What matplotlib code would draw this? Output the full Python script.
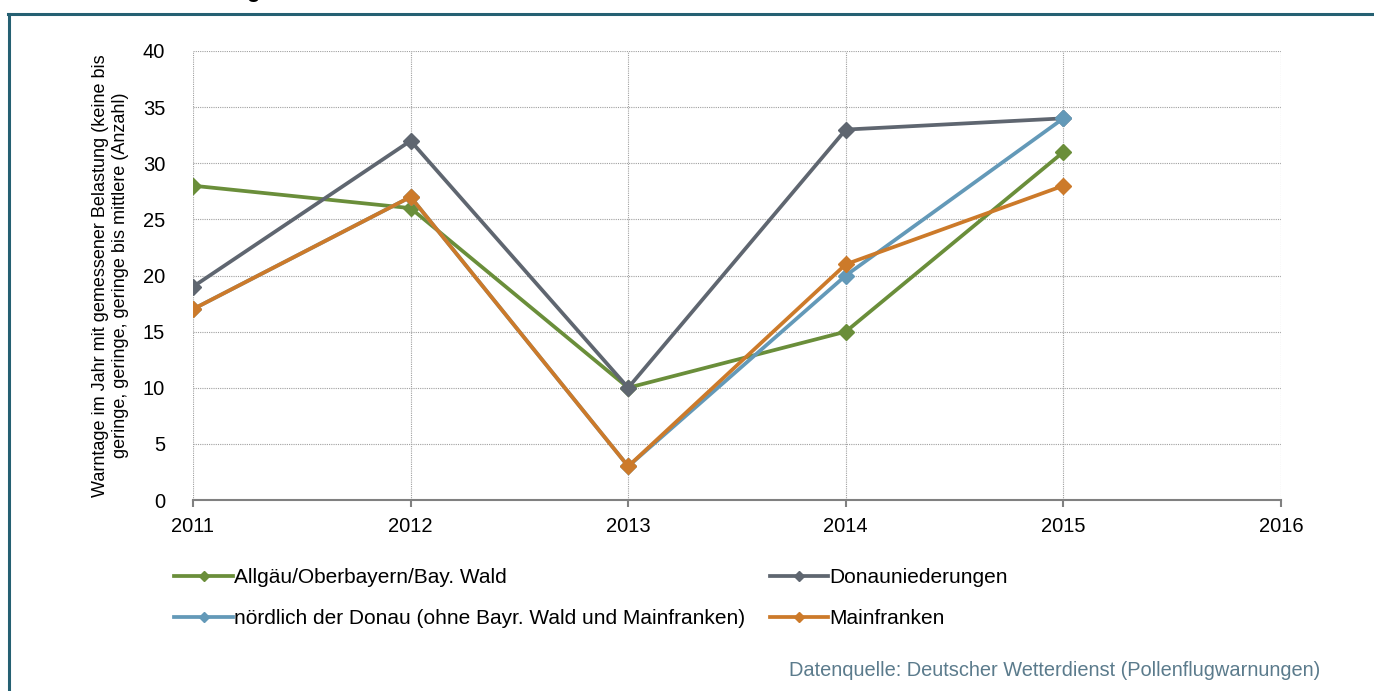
import numpy as np
import matplotlib
matplotlib.use("Agg")
import matplotlib.pyplot as plt
from matplotlib.lines import Line2D

plt.rcParams['font.family'] = ['Liberation Sans', 'DejaVu Sans']

years = [2011, 2012, 2013, 2014, 2015]
allgaeu = [28, 26, 10, 15, 31]
donau = [19, 32, 10, 33, 34]
noerdlich = [17, 27, 3, 20, 34]
mainfranken = [17, 27, 3, 21, 28]

names = ["Allgäu/Oberbayern/Bay. Wald", "Donauniederungen",
         "nördlich der Donau (ohne Bayr. Wald und Mainfranken)", "Mainfranken"]
colors = ["#6a8e3a", "#5f6670", "#6399b8", "#cc7a2a"]
series = [allgaeu, donau, noerdlich, mainfranken]

fig = plt.figure(figsize=(13.74, 6.91), dpi=100)
ax = fig.add_axes([193 / 1374, 1 - 500 / 691, (1281 - 193) / 1374, (500 - 51) / 691])

for vals, c in zip(series, colors):
    ax.plot(years, vals, color=c, lw=2.7, marker='D', ms=8, zorder=3)

ax.set_xlim(2011, 2016)
ax.set_ylim(0, 40)
ax.set_xticks(range(2011, 2017))
ax.set_yticks(range(0, 41, 5))
ax.grid(True, color='#a0a0a0', ls=(0, (1, 1)), lw=0.8)
for s in ['top', 'right', 'left']:
    ax.spines[s].set_visible(False)
ax.spines['bottom'].set_color('#808080')
ax.spines['bottom'].set_linewidth(1.5)
ax.tick_params(axis='x', length=5, color='#808080', width=1.5, labelsize=14.5, pad=7)
ax.tick_params(axis='y', length=0, labelsize=14.5, pad=20)
ax.set_ylabel("Warntage im Jahr mit gemessener Belastung (keine bis\n"
              "geringe, geringe, geringe bis mittlere (Anzahl)", fontsize=13, labelpad=10)

handles = [Line2D([], [], color=c, lw=2.7, marker='D', ms=5) for c in colors]
order = [0, 2, 1, 3]
fig.legend([handles[i] for i in order], [names[i] for i in order], ncol=2,
           loc='upper left', bbox_to_anchor=(166 / 1374, 1 - 560 / 691),
           frameon=False, fontsize=15, handlelength=2.8, handletextpad=0.05,
           columnspacing=1.2, labelspacing=1.05, borderaxespad=0)

fig.text(1320 / 1374, 1 - 671 / 691, "Datenquelle: Deutscher Wetterdienst (Pollenflugwarnungen)",
         ha='right', va='center', fontsize=14.4, color='#5b7b8c')

# frame lines (top and left)
fig.add_artist(Line2D([8 / 1374, 1], [1 - 14 / 691, 1 - 14 / 691], color='#256072', lw=2.2))
fig.add_artist(Line2D([9 / 1374, 9 / 1374], [0, 1 - 14 / 691], color='#256072', lw=2.2))
# clipped title remnant
fig.text(246 / 1374, 1 + 3 / 691, "g", fontsize=16, fontweight='bold', va='baseline')

fig.savefig("out.png", dpi=100)
